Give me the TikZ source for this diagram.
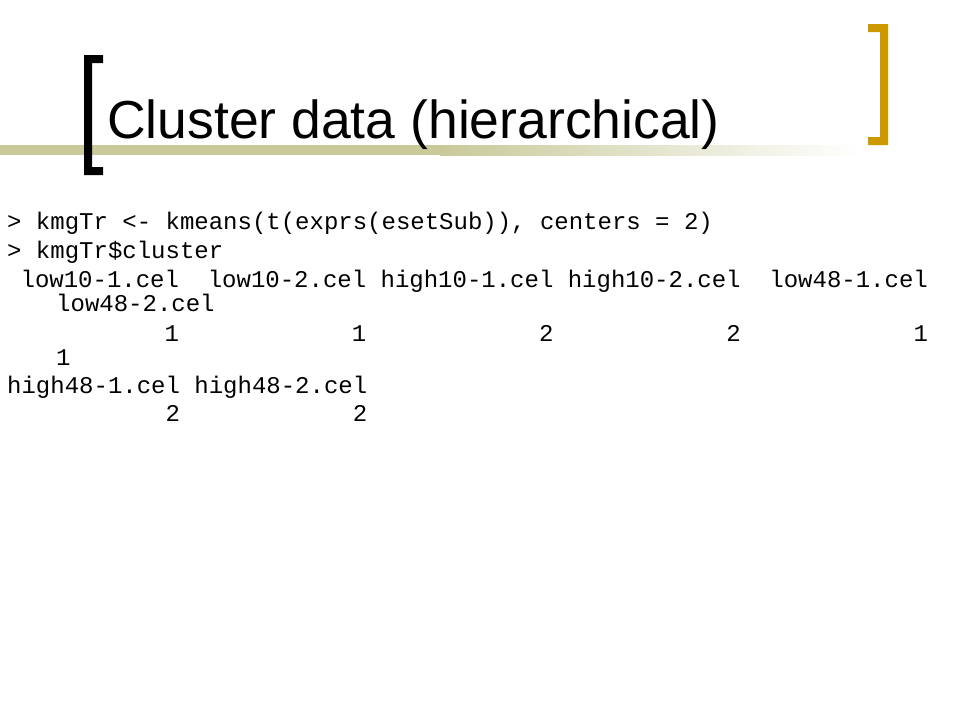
\documentclass[tikz,border=0pt]{standalone}
\usepackage{fontspec}
\setmainfont{Liberation Sans}
\setmonofont{Liberation Mono}
\usetikzlibrary{positioning}

\definecolor{barolive}{RGB}{201,201,154}
\definecolor{bracketgold}{RGB}{204,153,0}

% n blanks of the typewriter font
\newcommand{\rsp}[1]{\hspace*{#1\fontdimen2\font}}

\begin{document}
\begin{tikzpicture}
	[
		x=1pt, y=-1pt,
		% Make a style for the slide title.
		titletext/.style={anchor=base west, inner sep=0pt, font=\fontsize{53.5}{60}\selectfont},
		% And one for a line of R output.
		rline/.style={anchor=base west, inner sep=0pt, font=\ttfamily\fontsize{24}{28}\selectfont}
	]
		\useasboundingbox (0,0) rectangle (960,720);
		
		% Title bar, fading out to the right
		\fill[barolive] (0,145) rectangle (440,155);
		\shade[left color=barolive, right color=white] (440,145) rectangle (860,155);
		
		% Brackets
		\fill[black] (84,55) -- (103,55) -- (103,63) -- (92,63) -- (92,167)
			-- (103,167) -- (103,175) -- (84,175) -- cycle;
		\fill[bracketgold] (888,24) -- (868,24) -- (868,32) -- (880,32) -- (880,137)
			-- (868,137) -- (868,145) -- (888,145) -- cycle;
		
		\node[titletext] (title) at (107,138) {Cluster data (hierarchical)};
		
		% R session
		\node[rline] (cmd1) at (7,229) {> kmgTr <- kmeans(t(exprs(esetSub)), centers = 2)};
		\node[rline] (cmd2) at (7,258) {> kmgTr\$cluster};
		\node[rline] (names1) at (6,287) {\rsp{1}low10-1.cel\rsp{2}low10-2.cel high10-1.cel high10-2.cel\rsp{2}low48-1.cel};
		\node[rline] (names2) at (56,311) {low48-2.cel};
		\node[rline] (vals1) at (6,341) {\rsp{11}1\rsp{12}1\rsp{12}2\rsp{12}2\rsp{12}1};
		\node[rline] (vals2) at (56,365) {1};
		\node[rline] (names3) at (7,393) {high48-1.cel high48-2.cel};
		\node[rline] (vals3) at (7,421) {\rsp{11}2\rsp{12}2};
	\end{tikzpicture}
\end{document}
